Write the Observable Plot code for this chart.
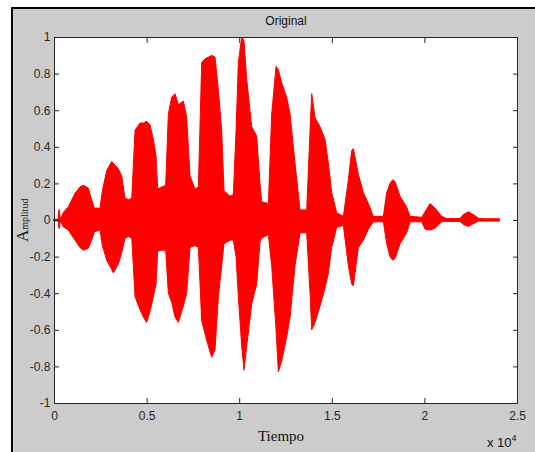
<!DOCTYPE html>
<html><head><meta charset="utf-8">
<script src="https://cdn.jsdelivr.net/npm/d3@7"></script>
<script src="https://cdn.jsdelivr.net/npm/@observablehq/plot@0.6"></script>
<style>
body{margin:0;background:#fff;overflow:hidden;}
#fig{position:absolute;left:11px;top:7px;width:540px;height:460px;background:#cccccc;border-left:2px solid #000;border-top:2px solid #000;}
#chart{position:absolute;left:0;top:0;}
</style></head><body>
<div id="fig"></div><div id="chart"></div>
<script>
// Sample index of each envelope reading
const samples = [0,230,260,300,330,420,500,775,1135,1400,1585,1850,2035,2180,2485,2610,2845,3115,3205,3475,3655,3835,4015,4200,4375,4645,4825,5005,5185,5365,5510,5600,5815,6030,6175,6355,6535,6715,6985,7165,7345,7615,7795,7975,8150,8335,8515,8695,8875,9055,9180,9505,9685,9830,9955,10135,10260,10405,10675,10945,11125,11215,11575,11755,11990,12115,12295,12565,12745,13015,13285,13645,13825,13915,14095,14365,14635,14815,14995,15265,15625,15895,16075,16165,16435,16705,16975,17245,17785,17965,18145,18290,18415,18685,19045,19225,19855,20035,20305,20575,20935,21205,21925,22105,22375,22645,22915,23185,24050];
// Upper envelope of the waveform
const upper = [0.005,0.005,0.055,0.055,0.01,0.02,0.04,0.073,0.146,0.18,0.19,0.175,0.11,0.065,0.065,0.16,0.27,0.32,0.31,0.28,0.24,0.12,0.11,0.12,0.49,0.53,0.53,0.54,0.52,0.44,0.35,0.17,0.18,0.19,0.58,0.67,0.69,0.63,0.65,0.56,0.24,0.17,0.18,0.86,0.88,0.89,0.9,0.89,0.71,0.49,0.16,0.13,0.14,0.49,0.86,1.0,0.98,0.77,0.51,0.46,0.2,0.1,0.09,0.58,0.84,0.82,0.75,0.67,0.58,0.31,0.055,0.055,0.49,0.69,0.56,0.51,0.44,0.31,0.15,0.04,0.02,0.22,0.38,0.39,0.25,0.15,0.09,0.02,0.02,0.15,0.2,0.22,0.21,0.13,0.07,0.02,0.015,0.045,0.09,0.065,0.02,0.008,0.008,0.03,0.045,0.03,0.01,0.007,0.007];
// Lower envelope of the waveform
const lower = [-0.005,-0.005,-0.045,-0.045,-0.01,-0.02,-0.037,-0.055,-0.11,-0.15,-0.165,-0.155,-0.11,-0.064,-0.055,-0.14,-0.22,-0.27,-0.29,-0.24,-0.18,-0.1,-0.09,-0.1,-0.42,-0.49,-0.53,-0.56,-0.5,-0.42,-0.35,-0.17,-0.165,-0.165,-0.4,-0.45,-0.53,-0.56,-0.47,-0.4,-0.15,-0.14,-0.15,-0.55,-0.62,-0.69,-0.75,-0.71,-0.42,-0.25,-0.13,-0.11,-0.11,-0.2,-0.42,-0.69,-0.82,-0.69,-0.46,-0.35,-0.12,-0.1,-0.08,-0.25,-0.6,-0.83,-0.77,-0.64,-0.53,-0.25,-0.07,-0.07,-0.4,-0.6,-0.56,-0.47,-0.37,-0.29,-0.15,-0.04,-0.03,-0.25,-0.35,-0.36,-0.15,-0.11,-0.05,-0.01,-0.01,-0.13,-0.2,-0.22,-0.21,-0.13,-0.07,-0.01,-0.01,-0.05,-0.055,-0.045,-0.01,-0.008,-0.008,-0.025,-0.035,-0.02,-0.006,-0.006,-0.006];

const xTicks = [0, 5000, 10000, 15000, 20000, 25000];
const xTickLabels = ["0", "0.5", "1", "1.5", "2", "2.5"];
const yTicks = [-1, -0.8, -0.6, -0.4, -0.2, 0, 0.2, 0.4, 0.6, 0.8, 1];
const yTickLabels = ["-1", "-0.8", "-0.6", "-0.4", "-0.2", "0", "0.2", "0.4", "0.6", "0.8", "1"];
const titleText = "Original";
const xLabel = "Tiempo";
const xExponent = ["x 10", "4"];
const yLabel = ["A", "mplitud"];

const data = samples.map((t, i) => ({t, hi: upper[i], lo: lower[i]}));
const axisColor = "#262626";

const plot = Plot.plot({
  width: 535, height: 452,
  marginLeft: 54, marginRight: 18, marginTop: 37, marginBottom: 49,
  style: {background: "transparent", fontFamily: "'Liberation Sans', Arial, sans-serif", fontSize: "12px", color: axisColor},
  x: {domain: [0, 25000]},
  y: {domain: [-1, 1]},
  marks: [
    Plot.frame({fill: "white", stroke: null}),
    Plot.areaY(data, {x: "t", y1: "lo", y2: "hi", fill: "#ff0000", stroke: "#ff0000", strokeWidth: 1}),
    Plot.frame({stroke: axisColor, strokeWidth: 1}),
    Plot.axisX({anchor: "bottom", ticks: xTicks, tickFormat: d => xTickLabels[xTicks.indexOf(d)], tickSize: -5, tickPadding: 13, label: null, fontSize: 12}),
    Plot.axisX({anchor: "top", ticks: xTicks, tickFormat: () => "", tickSize: -5, label: null}),
    Plot.axisY({anchor: "left", ticks: yTicks, tickFormat: d => yTickLabels[yTicks.indexOf(d)], tickSize: -5, tickPadding: 9, label: null, fontSize: 12}),
    Plot.axisY({anchor: "right", ticks: yTicks, tickFormat: () => "", tickSize: -5, label: null}),
    Plot.text([titleText], {frameAnchor: "top", dy: -21, fontSize: 12, fill: "#111"}),
    Plot.text([xLabel], {frameAnchor: "bottom", dx: -5, dy: 37, fontSize: 15, fontFamily: "'Liberation Serif', 'Times New Roman', serif", fill: "#111"})
  ]
});
document.getElementById("chart").appendChild(plot);

const svg = d3.select(plot);
// exponent note
const ex = svg.append("text").attr("x", 487).attr("y", 447).attr("text-anchor", "start")
  .attr("font-family", "'Liberation Sans', Arial, sans-serif").attr("font-size", 13).attr("fill", "#111");
ex.append("tspan").text(xExponent[0]);
ex.append("tspan").attr("dy", -6).attr("font-size", 9).text(xExponent[1]);
// y label
const yl = svg.append("text").attr("transform", "translate(28,242) rotate(-90)").attr("text-anchor", "start")
  .attr("font-family", "'Liberation Serif', 'Times New Roman', serif").attr("fill", "#111");
yl.append("tspan").attr("font-size", 17).text(yLabel[0]);
yl.append("tspan").attr("font-size", 10).text(yLabel[1]);
</script>
</body></html>
